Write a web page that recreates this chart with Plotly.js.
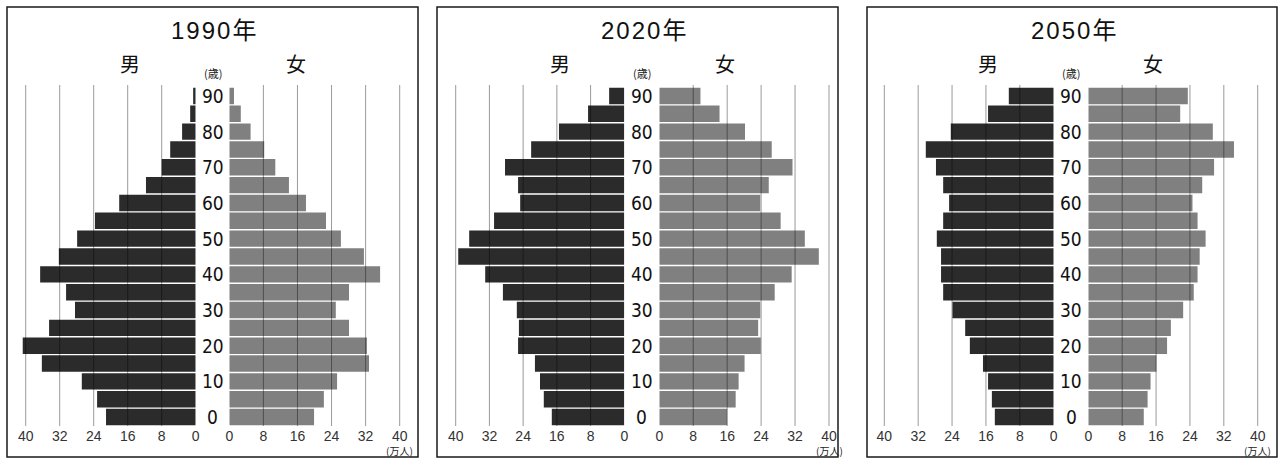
<!DOCTYPE html>
<html>
<head>
<meta charset="utf-8">
<script src="https://cdn.plot.ly/plotly-3.0.1.min.js"></script>
<style>
html, body { margin: 0; padding: 0; background: #fff; }
#chart { width: 1284px; height: 465px; }
</style>
</head>
<body>
<div id="chart"></div>
<script>
// Age groups (lower bound of each 5-year band, 90 = 90 and over)
const ages = [0, 5, 10, 15, 20, 25, 30, 35, 40, 45, 50, 55, 60, 65, 70, 75, 80, 85, 90];
const ageLabels = [0, 10, 20, 30, 40, 50, 60, 70, 80, 90];
const years = ['1990', '2020', '2050'];
const valueTicks = [0, 8, 16, 24, 32, 40];

// Population in units of 10,000 people, youngest band first
const male1990   = [21.1, 23.2, 26.8, 36.2, 40.7, 34.5, 28.4, 30.5, 36.6, 32.2, 27.9, 23.7, 18.0, 11.7, 8.0, 6.0, 3.2, 1.3, 0.6];
const female1990 = [19.9, 22.2, 25.3, 32.8, 32.3, 28.1, 25.0, 28.1, 35.4, 31.6, 26.2, 22.7, 18.0, 14.0, 10.8, 8.2, 5.0, 2.7, 1.1];
const male2020   = [17.2, 19.1, 20.0, 21.2, 25.2, 25.0, 25.5, 28.8, 33.0, 39.4, 36.8, 30.9, 24.7, 25.2, 28.3, 22.1, 15.5, 8.6, 3.6];
const female2020 = [16.0, 18.0, 18.7, 20.1, 23.9, 23.3, 23.8, 27.2, 31.2, 37.6, 34.3, 28.6, 23.8, 25.8, 31.4, 26.5, 20.2, 14.2, 9.7];
const male2050   = [13.9, 14.6, 15.5, 16.7, 19.8, 20.9, 23.9, 26.1, 26.6, 26.6, 27.6, 26.1, 24.7, 26.1, 27.8, 30.2, 24.3, 15.5, 10.6];
const female2050 = [13.1, 14.0, 14.7, 16.1, 18.6, 19.5, 22.4, 24.9, 25.8, 26.3, 27.7, 25.8, 24.6, 26.9, 29.7, 34.4, 29.4, 21.7, 23.5];

const maleSeries = [male1990, male2020, male2050];
const femaleSeries = [female1990, female2020, female2050];

const W = 1284, H = 465;
const px = v => v / W;
const py = v => 1 - v / H;

// Panel geometry in pixels: where 40 and 0 sit on each half
const panels = [
  { box: [7, 418],    male: [25.7, 195.7],  female: [229.3, 399.7],  title: 213,  man: 130, woman: 296 },
  { box: [437, 838],  male: [455.7, 624.3], female: [659.3, 829.0],  title: 643,  man: 560, woman: 725 },
  { box: [867, 1277], male: [884.3, 1053.7], female: [1088.3, 1257.7], title: 1073, man: 988, woman: 1153 }
];
const plotTop = 87, plotBottom = 426, gridTop = 85, boxTop = 7, boxBottom = 457;
const AXIS_MAX = 42; // a little room past 40 so the longest bars are not cut

const MALE_COLOR = '#2b2b2b';
const FEMALE_COLOR = '#808080';
const tickFont = { family: 'Liberation Sans, Arial, sans-serif', size: 14, color: '#333' };
const cjk = 'Noto Sans CJK JP, sans-serif';

const data = [];
const layout = {
  width: W, height: H,
  margin: { l: 0, r: 0, t: 0, b: 0 },
  paper_bgcolor: '#fff', plot_bgcolor: 'rgba(0,0,0,0)',
  showlegend: false,
  bargap: 0.08,
  shapes: [],
  annotations: []
};

panels.forEach((p, i) => {
  const mx = 'x' + (2 * i + 1), fx = 'x' + (2 * i + 2), yy = 'y' + (i + 1);
  const mKey = 'xaxis' + (2 * i + 1), fKey = 'xaxis' + (2 * i + 2), yKey = 'yaxis' + (i + 1);
  const mScale = (p.male[1] - p.male[0]) / 40;
  const fScale = (p.female[1] - p.female[0]) / 40;

  data.push({
    type: 'bar', orientation: 'h', x: maleSeries[i], y: ages,
    xaxis: mx, yaxis: yy, marker: { color: MALE_COLOR, line: { width: 0 } },
    hoverinfo: 'skip'
  });
  data.push({
    type: 'bar', orientation: 'h', x: femaleSeries[i], y: ages,
    xaxis: fx, yaxis: yy, marker: { color: FEMALE_COLOR, line: { width: 0 } },
    hoverinfo: 'skip'
  });

  const xCommon = {
    anchor: yy, showgrid: false, zeroline: false, showline: false, ticks: '',
    tickmode: 'array', tickvals: valueTicks, ticktext: valueTicks.map(String),
    tickfont: tickFont, fixedrange: true
  };
  layout[mKey] = Object.assign({}, xCommon, {
    domain: [px(p.male[1] - AXIS_MAX * mScale), px(p.male[1])], range: [AXIS_MAX, 0]
  });
  layout[fKey] = Object.assign({}, xCommon, {
    domain: [px(p.female[0]), px(p.female[0] + AXIS_MAX * fScale)], range: [0, AXIS_MAX]
  });
  layout[yKey] = {
    anchor: mx, domain: [py(plotBottom), py(plotTop)], range: [-2.5, 92.5],
    visible: false, fixedrange: true
  };

  // vertical grid lines drawn over the bars
  [mx, fx].forEach(ax => {
    valueTicks.slice(1).forEach(v => {
      layout.shapes.push({
        type: 'line', xref: ax, yref: 'paper', x0: v, x1: v,
        y0: py(plotBottom), y1: py(gridTop),
        line: { color: 'rgba(0,0,0,0.40)', width: 1 }, layer: 'above'
      });
    });
  });

  // panel frame
  layout.shapes.push({
    type: 'rect', xref: 'paper', yref: 'paper',
    x0: px(p.box[0]), x1: px(p.box[1]), y0: py(boxBottom), y1: py(boxTop),
    line: { color: '#1a1a1a', width: 1.5 }, fillcolor: 'rgba(0,0,0,0)', layer: 'above'
  });

  // titles and labels
  const center = (p.male[1] + p.female[0]) / 2;
  layout.annotations.push({
    xref: 'paper', yref: 'paper', x: px(p.title), y: py(31), showarrow: false,
    text: years[i].split('').join('\u200A') + '\u200A年',
    font: { family: 'Liberation Sans, ' + cjk, size: 24, color: '#111' },
    xanchor: 'center', yanchor: 'middle'
  });
  layout.annotations.push({
    xref: 'paper', yref: 'paper', x: px(p.man), y: py(63), showarrow: false,
    text: '男', font: { family: cjk, size: 20, color: '#111' }, xanchor: 'center', yanchor: 'middle'
  });
  layout.annotations.push({
    xref: 'paper', yref: 'paper', x: px(p.woman), y: py(63), showarrow: false,
    text: '女', font: { family: cjk, size: 20, color: '#111' }, xanchor: 'center', yanchor: 'middle'
  });
  layout.annotations.push({
    xref: 'paper', yref: 'paper', x: px(center), y: py(73), showarrow: false,
    text: '(歳)', font: { family: cjk, size: 11, color: '#222' }, xanchor: 'center', yanchor: 'middle'
  });
  layout.annotations.push({
    xref: 'paper', yref: 'paper', x: px(p.female[1]), y: py(442), showarrow: false,
    text: '(万人)', font: { family: cjk, size: 10, color: '#222' }, xanchor: 'center', yanchor: 'top',
    borderpad: 0
  });
  ageLabels.forEach(a => {
    layout.annotations.push({
      xref: 'paper', yref: yy, x: px(center), y: a, showarrow: false,
      text: String(a),
      font: { family: 'Liberation Sans Narrow, DejaVu Sans Condensed, sans-serif', size: 19, color: '#111' },
      xanchor: 'center', yanchor: 'middle'
    });
  });
});

Plotly.newPlot('chart', data, layout, { staticPlot: true, displayModeBar: false });
</script>
</body>
</html>
